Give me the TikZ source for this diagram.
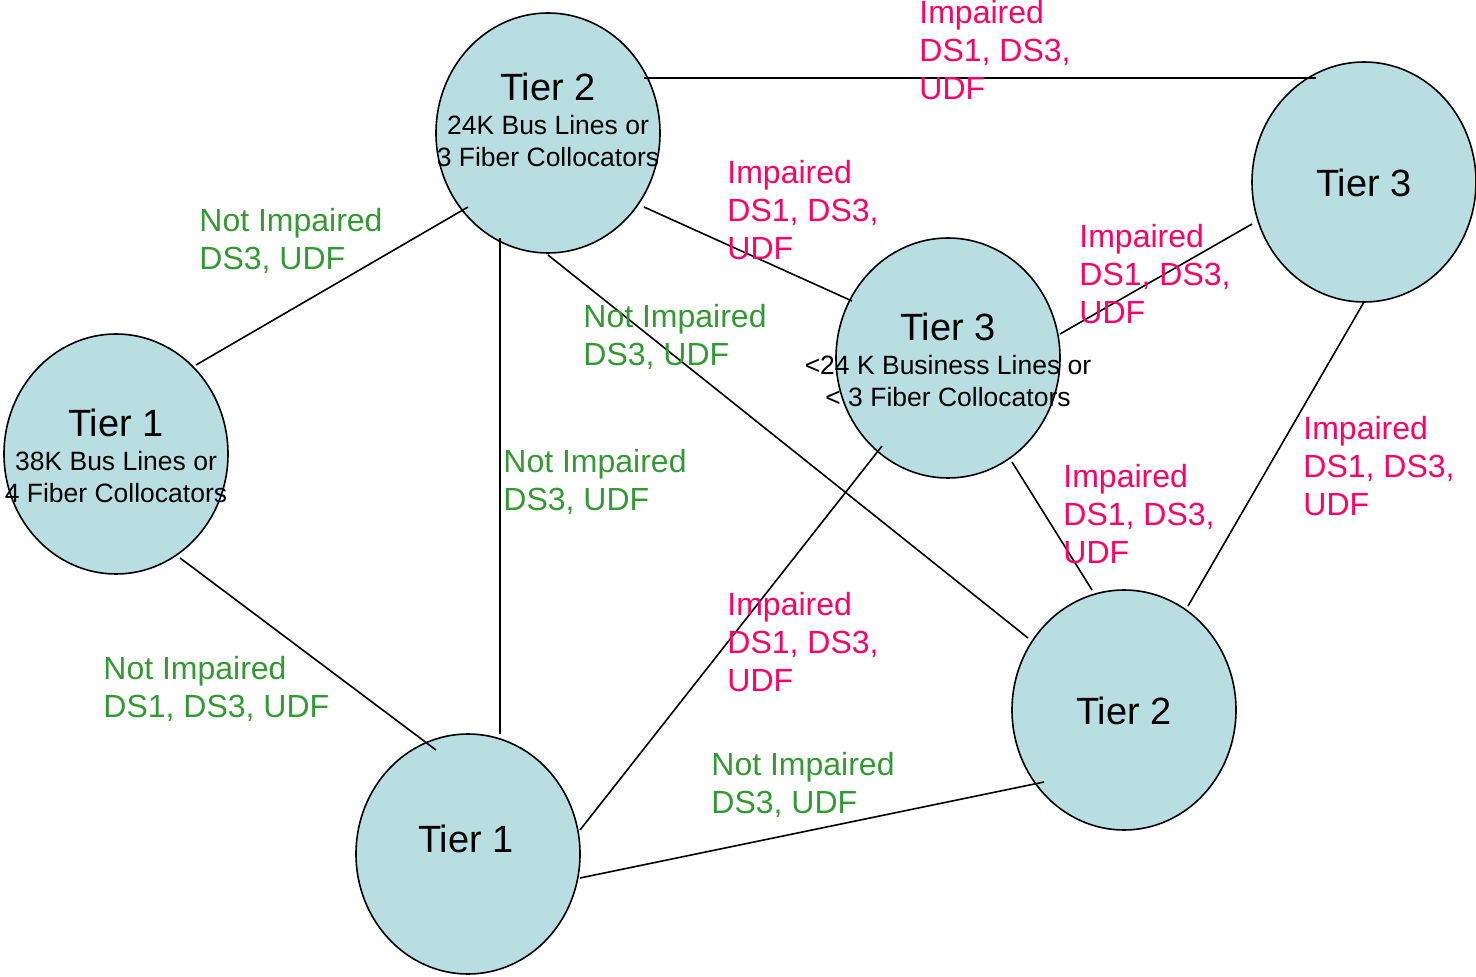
\documentclass[tikz,border=0pt]{standalone}
\usepackage{fontspec}
\setmainfont{Liberation Sans}
\usetikzlibrary{shapes.geometric}
\definecolor{tierfill}{HTML}{B9DEE1}
\definecolor{impink}{HTML}{FF0066}
\definecolor{okgreen}{HTML}{339933}
\tikzset{
  tier/.style={ellipse, draw=black, line width=0.8pt, fill=tierfill, minimum width=112pt, minimum height=120pt, inner sep=0pt},
  tiertext/.style={align=center, inner sep=0pt, font=\fontsize{13.25}{16}\selectfont},
  bigtext/.style={inner sep=0pt, font=\fontsize{19}{19}\selectfont},
  conn/.style={draw=black, line width=0.8pt},
  lbl/.style={align=left, anchor=north west, inner sep=0pt, font=\fontsize{16}{19}\selectfont},
  imp/.style={lbl, text=impink},
  nimp/.style={lbl, text=okgreen}
}
\begin{document}
\begin{tikzpicture}[x=0.5pt,y=-0.5pt]
\useasboundingbox (0,0) rectangle (1476,977);
% tiers
\node[tier] (t2a) at (548,133) {};
\node[tier] (t3b) at (1364,182) {};
\node[tier] (t1a) at (116,454) {};
\node[tier] (t3a) at (948,358) {};
\node[tier] (t2b) at (1124,710) {};
\node[tier] (t1b) at (468,854) {};
% connectors
\draw[conn] ([shift={(96,-55)}]t2a.center) -- ([shift={(-48,-104)}]t3b.center);
\draw[conn] ([shift={(-80,74)}]t2a.center) -- ([shift={(80,-89)}]t1a.center);
\draw[conn] ([shift={(-48,105)}]t2a.center) -- ([shift={(32,-120)}]t1b.center);
\draw[conn] ([shift={(96,74)}]t2a.center) -- ([shift={(-96,-57)}]t3a.center);
\draw[conn] ([shift={(0,122)}]t2a.center) -- ([shift={(-96,-72)}]t2b.center);
\draw[conn] ([shift={(-112,42)}]t3b.center) -- ([shift={(112,-24)}]t3a.center);
\draw[conn] ([shift={(0,120)}]t3b.center) -- ([shift={(64,-104)}]t2b.center);
\draw[conn] ([shift={(64,104)}]t3a.center) -- ([shift={(-32,-120)}]t2b.center);
\draw[conn] ([shift={(-66,88)}]t3a.center) -- ([shift={(112,-24)}]t1b.center);
\draw[conn] ([shift={(64,104)}]t1a.center) -- ([shift={(-32,-104)}]t1b.center);
\draw[conn] ([shift={(112,24)}]t1b.center) -- ([shift={(-80,72)}]t2b.center);
% tier texts
\node[tiertext, anchor=north] (t2atext) at ([shift={(0,-60)}]t2a.center) {{\fontsize{19}{19}\selectfont Tier 2}\\[1pt]24K Bus Lines or\\3 Fiber Collocators};
\node[tiertext, anchor=north] (t1atext) at ([shift={(0,-45)}]t1a.center) {{\fontsize{19}{19}\selectfont Tier 1}\\[1pt]38K Bus Lines or\\4 Fiber Collocators};
\node[tiertext, anchor=north] (t3atext) at ([shift={(0,-45)}]t3a.center) {{\fontsize{19}{19}\selectfont Tier 3}\\[1pt]<24 K Business Lines or\\< 3 Fiber Collocators};
\node[bigtext] (t3btext) at ([shift={(0,1)}]t3b.center) {Tier 3};
\node[bigtext] (t2btext) at ([shift={(0,1)}]t2b.center) {Tier 2};
\node[bigtext] (t1btext) at ([shift={(-2,-15)}]t1b.center) {Tier 1};
% labels
\node[imp] (l1) at (919,0) {Impaired\\DS1, DS3,\\UDF};
\node[imp] (l2) at (727,160) {Impaired\\DS1, DS3,\\UDF};
\node[nimp] (l3) at (199,208) {Not Impaired\\DS3, UDF};
\node[imp] (l4) at (1079,224) {Impaired\\DS1, DS3,\\UDF};
\node[nimp] (l5) at (583,304) {Not Impaired\\DS3, UDF};
\node[nimp] (l6) at (503,449) {Not Impaired\\DS3, UDF};
\node[imp] (l7) at (1303,416) {Impaired\\DS1, DS3,\\UDF};
\node[imp] (l8) at (1063,464) {Impaired\\DS1, DS3,\\UDF};
\node[imp] (l9) at (727,592) {Impaired\\DS1, DS3,\\UDF};
\node[nimp] (l10) at (103,656) {Not Impaired\\DS1, DS3, UDF};
\node[nimp] (l11) at (711,752) {Not Impaired\\DS3, UDF};
\end{tikzpicture}
\end{document}
